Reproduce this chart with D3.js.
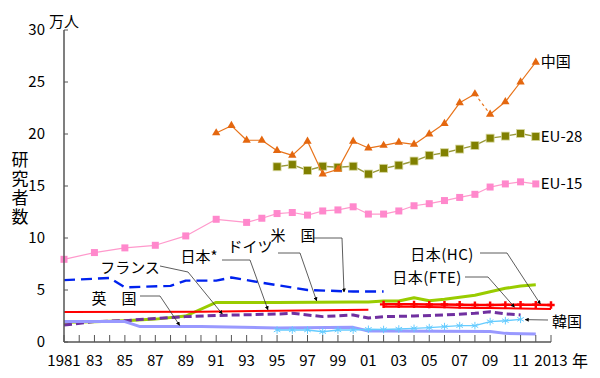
<!DOCTYPE html>
<html>
<head>
<meta charset="utf-8">
<script src="https://cdn.jsdelivr.net/npm/d3@7"></script>
<style>
  body { margin: 0; background: #fff; }
  text { font-family: "Noto Sans CJK JP", "Liberation Sans", sans-serif; fill: #000; }
</style>
</head>
<body>
<div id="chart"></div>
<script>
// values (unit: 万人 axis)
var chinaYears = [1991,1992,1993,1994,1995,1996,1997,1998,1999,2000,2001,2002,2003,2004,2005,2006,2007,2008];
var chinaValues = [20.1,20.8,19.4,19.4,18.4,17.95,19.3,16.15,16.6,19.3,18.65,18.9,19.2,19.0,20.0,21.0,23.0,23.85];
var chinaYears2 = [2009,2010,2011,2012];
var chinaValues2 = [21.9,23.1,25.0,26.9];

var eu28Years = [1995,1996,1997,1998,1999,2000,2001,2002,2003,2004,2005,2006,2007,2008,2009,2010,2011,2012];
var eu28Values = [16.85,17.05,16.5,16.9,16.8,16.9,16.15,16.7,17.0,17.4,17.95,18.2,18.55,18.9,19.6,19.8,20.05,19.75];

var eu15Years = [1981,1983,1985,1987,1989,1991,1993,1994,1995,1996,1997,1998,1999,2000,2001,2002,2003,2004,2005,2006,2007,2008,2009,2010,2011,2012];
var eu15Values = [7.95,8.6,9.05,9.3,10.2,11.8,11.5,11.9,12.35,12.45,12.2,12.6,12.7,13.0,12.3,12.3,12.6,13.1,13.3,13.6,13.9,14.2,14.9,15.2,15.4,15.2];

var usYears = [1981,1984,1985,1988,1989,1991,1992,1994,1997,2000,2002];
var usValues = [5.95,6.15,5.25,5.4,5.9,5.9,6.2,5.7,5.0,4.85,4.85];

var japanStarYears = [1981,1990,1995,2001];
var japanStarValues = [2.88,2.9,3.0,3.1];

var germanyYears = [1981,1983,1985,1987,1989,1991,1995,2000,2001,2002,2003,2004,2005,2006,2007,2008,2009,2010,2011,2012];
var germanyValues = [1.9,1.95,2.05,2.2,2.5,3.8,3.8,3.85,3.85,3.94,3.94,4.26,3.97,4.1,4.3,4.5,4.84,5.16,5.38,5.5];

var franceYears = [1981,1983,1985,1987,1989,1991,1995,1996,1997,1998,2000,2001,2002,2004,2006,2008,2009,2010,2011];
var franceValues = [1.63,1.96,2.05,2.27,2.44,2.55,2.69,2.76,2.6,2.44,2.6,2.3,2.44,2.5,2.6,2.76,2.9,2.7,2.6];

var ukYears = [1981,1985,1986,1990,1995,2000,2001,2002,2009,2010,2012];
var ukValues = [1.96,1.96,1.48,1.48,1.35,1.41,1.05,1.05,1.0,0.83,0.78];

var koreaYears = [1995,1996,1997,1998,1999,2000,2001,2002,2003,2004,2005,2006,2007,2008,2009,2010,2011];
var koreaValues = [1.15,1.15,1.15,0.99,1.15,1.15,1.22,1.2,1.25,1.31,1.38,1.48,1.57,1.57,1.96,2.05,2.18];

var japanHCYears = [2002,2003,2004,2005,2006,2007,2008,2009,2010,2011,2012,2013];
var japanHCValues = [3.62,3.62,3.62,3.6,3.6,3.58,3.55,3.55,3.57,3.58,3.58,3.56];
var japanFTEValues = [3.4,3.4,3.38,3.36,3.35,3.3,3.27,3.27,3.25,3.22,3.2,3.18];

var yTicks = [0,5,10,15,20,25,30];
var xLabelYears = [1981,1983,1985,1987,1989,1991,1993,1995,1997,1999,2001,2003,2005,2007,2009,2011,2013];

function zip(xs, vs) { return xs.map(function(x, i) { return {year: x, value: vs[i]} }) }

var width = 600, height = 378;
var svg = d3.select("#chart").append("svg")
  .attr("width", width)
  .attr("height", height);

var x = d3.scaleLinear().domain([1981, 2013]).range([64, 551]);
var y = d3.scaleLinear().domain([0, 30]).range([342, 30]);

var line = d3.line()
  .x(function(d) { return x(d.year) })
  .y(function(d) { return y(d.value) });

function drawLine(data, color, w, dash) {
  svg.append("path")
    .attr("d", line(data))
    .attr("fill", "none")
    .attr("stroke", color)
    .attr("stroke-width", w)
    .attr("stroke-dasharray", dash || null)
    .attr("stroke-linejoin", "round");
}

// EU-15
var eu15 = zip(eu15Years, eu15Values);
drawLine(eu15, "#ff99cc", 1.2);
svg.selectAll(".eu15").data(eu15).enter().append("rect")
  .attr("x", function(d) { return x(d.year) - 3.5 })
  .attr("y", function(d) { return y(d.value) - 3.5 })
  .attr("width", 7).attr("height", 7)
  .attr("fill", "#ff88cc");

// EU-28
var eu28 = zip(eu28Years, eu28Values);
drawLine(eu28, "#99993a", 1.4);
svg.selectAll(".eu28").data(eu28).enter().append("rect")
  .attr("x", function(d) { return x(d.year) - 4 })
  .attr("y", function(d) { return y(d.value) - 4 })
  .attr("width", 8).attr("height", 8)
  .attr("fill", "#808000")
  .attr("stroke", "#d8d8a0").attr("stroke-width", 0.8);

// China (dashed between 2008 and 2009)
var china1 = zip(chinaYears, chinaValues), china2 = zip(chinaYears2, chinaValues2);
drawLine(china1, "#e8731a", 1.2);
drawLine([china1[china1.length - 1], china2[0]], "#e8731a", 1.2, "3,3");
drawLine(china2, "#e8731a", 1.2);
var tri = d3.symbol().type(d3.symbolTriangle).size(30);
svg.selectAll(".china").data(china1.concat(china2)).enter().append("path")
  .attr("d", tri)
  .attr("transform", function(d) { return "translate(" + x(d.year) + "," + y(d.value) + ")" })
  .attr("fill", "#e4670f");

// US
drawLine(zip(usYears, usValues), "#0022ee", 2.4, "11,6");
// Germany
drawLine(zip(germanyYears, germanyValues), "#99cc00", 3);
// Japan*
drawLine(zip(japanStarYears, japanStarValues), "#ff0000", 2);
// France
drawLine(zip(franceYears, franceValues), "#7030a0", 3, "8,4");
// UK
drawLine(zip(ukYears, ukValues), "#9999ff", 3);

// Korea
var korea = zip(koreaYears, koreaValues);
drawLine(korea, "#66ccff", 1.4);
var star = d3.symbol().type(d3.symbolAsterisk || d3.symbolCross).size(40);
svg.selectAll(".korea").data(korea).enter().append("path")
  .attr("d", star)
  .attr("transform", function(d) { return "translate(" + x(d.year) + "," + y(d.value) + ")" })
  .attr("fill", "none")
  .attr("stroke", "#66ccff").attr("stroke-width", 1);

// Japan HC / FTE
var jhc = zip(japanHCYears, japanHCValues), jfte = zip(japanHCYears, japanFTEValues);
drawLine(jfte, "#ff0000", 2);
drawLine(jhc, "#ff0000", 2.5);
svg.selectAll(".jhc").data(jhc).enter().append("path")
  .attr("d", d3.symbol().type(d3.symbolCross).size(30))
  .attr("transform", function(d) { return "translate(" + x(d.year) + "," + y(d.value) + ")" })
  .attr("fill", "#ff0000");

// axes
var axisColor = "#555";
var yAxis = svg.append("g").attr("transform", "translate(" + x(1981) + ",0)");
yAxis.append("line").attr("y1", y(0)).attr("y2", y(30)).attr("stroke", axisColor).attr("stroke-width", 1.5);
yAxis.selectAll(".yt").data(yTicks).enter().append("line")
  .attr("x1", 0).attr("x2", 4)
  .attr("y1", function(d) { return y(d) }).attr("y2", function(d) { return y(d) })
  .attr("stroke", axisColor).attr("stroke-width", 1);
yAxis.selectAll(".yl").data(yTicks).enter().append("text")
  .attr("x", -19).attr("y", function(d) { return y(d) })
  .attr("dy", "0.35em").attr("text-anchor", "end")
  .style("font-size", "15px")
  .text(function(d) { return d });

var xYears = d3.range(1981, 2014);
var xAxis = svg.append("g");
xAxis.append("line").attr("x1", x(1981)).attr("x2", x(2013))
  .attr("y1", y(0)).attr("y2", y(0)).attr("stroke", axisColor).attr("stroke-width", 1.5);
xAxis.selectAll(".xt").data(xYears).enter().append("line")
  .attr("x1", function(d) { return x(d) }).attr("x2", function(d) { return x(d) })
  .attr("y1", y(0)).attr("y2", y(0) - 7)
  .attr("stroke", axisColor).attr("stroke-width", 1);
xAxis.selectAll(".xl").data(xLabelYears).enter().append("text")
  .attr("x", function(d) { return x(d) }).attr("y", 361)
  .attr("dy", "0.35em").attr("text-anchor", "middle")
  .style("font-size", "15px")
  .text(function(d) { return (d === 1981 || d === 2013) ? d : String(d).slice(2) });
svg.append("text").attr("x", 580).attr("y", 361).attr("dy", "0.35em")
  .attr("text-anchor", "middle").style("font-size", "16px").text("年");

svg.append("text").attr("x", 64).attr("y", 22).attr("dy", "0.35em")
  .attr("text-anchor", "middle").style("font-size", "15px").text("万人");

// y title, written vertically as one text
svg.append("text")
  .attr("x", 20).attr("y", 151)
  .style("writing-mode", "vertical-rl")
  .style("glyph-orientation-vertical", "0")
  .style("letter-spacing", "2px")
  .style("font-size", "17px")
  .text("研究者数");

// series labels at line ends
var endLabels = [
  {text: "中国", year: 2012, value: 26.9},
  {text: "EU-28", year: 2012, value: 19.75},
  {text: "EU-15", year: 2012, value: 15.2}
];
svg.selectAll(".endl").data(endLabels).enter().append("text")
  .attr("x", function(d) { return x(d.year) + 5 })
  .attr("y", function(d) { return y(d.value) })
  .attr("dy", "0.35em")
  .style("font-size", "15px")
  .text(function(d) { return d.text });

// callout labels with leader lines (label position in px, tip in data coords)
var callouts = [
  {text: "英\u3000国", lx: 114, ly: 299, path: [[140, 296], [160, 296]], tip: [1988.6, 1.6]},
  {text: "フランス", lx: 130, ly: 268, path: [[160, 266], [188, 272]], tip: [1991.4, 2.7]},
  {text: "日本*", lx: 199, ly: 257, path: [[222, 260], [250, 260]], tip: [1994.4, 3.1]},
  {text: "ドイツ", lx: 250, ly: 247, path: [[278, 253], [300, 253]], tip: [1997.6, 3.95]},
  {text: "米\u3000国", lx: 293, ly: 236, path: [[313, 238], [342, 238]], tip: [1999.4, 4.8]},
  {text: "日本(HC)", lx: 442, ly: 255, path: [[480, 253], [507, 253]], tip: [2012.3, 3.65]},
  {text: "日本(FTE)", lx: 427, ly: 278, path: [[465, 277], [488, 277]], tip: [2010.6, 3.35]},
  {text: "韓国", lx: 567, ly: 322, path: [[548, 320]], tip: [2011.3, 2.15]}
];
var defs = svg.append("defs");
defs.append("marker").attr("id", "arr")
  .attr("viewBox", "0 0 10 10").attr("refX", 9).attr("refY", 5)
  .attr("markerWidth", 5).attr("markerHeight", 5).attr("orient", "auto")
  .append("path").attr("d", "M0,0L10,5L0,10z").attr("fill", "#000");

callouts.forEach(function(c) {
  svg.append("text").attr("x", c.lx).attr("y", c.ly).attr("dy", "0.35em")
    .attr("text-anchor", "middle").style("font-size", "15px")
    .style("letter-spacing", c.text.indexOf("(") >= 0 ? "0.5px" : null)
    .text(c.text);
  var pts = c.path.concat([[x(c.tip[0]), y(c.tip[1])]]);
  svg.append("path")
    .attr("d", d3.line()(pts))
    .attr("fill", "none").attr("stroke", "#333").attr("stroke-width", 0.8)
    .attr("marker-end", "url(#arr)");
});
</script>
</body>
</html>
